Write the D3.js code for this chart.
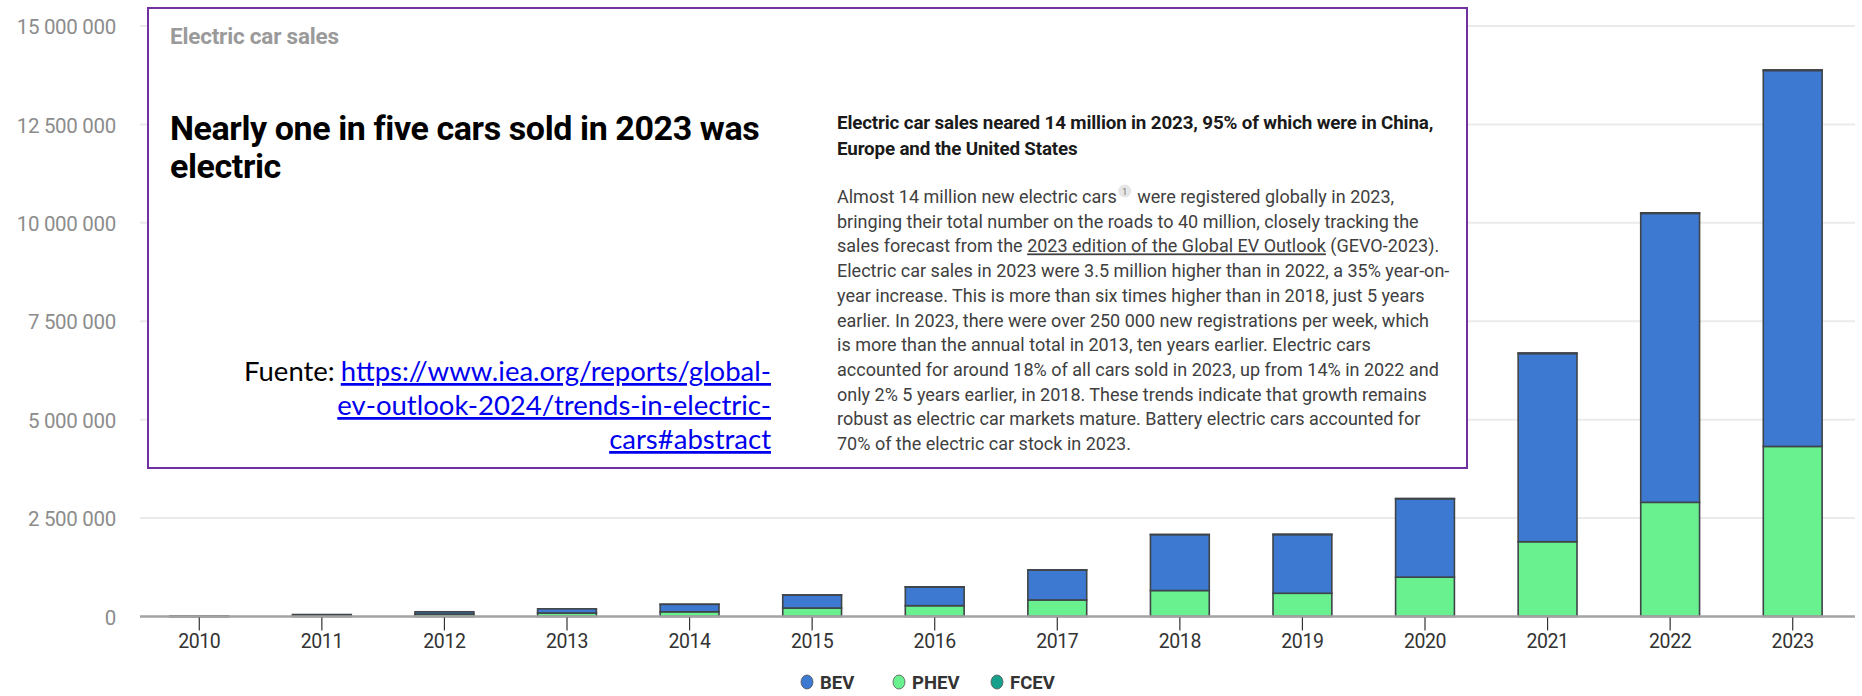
<!DOCTYPE html>
<html>
<head>
<meta charset="utf-8">
<script src="https://cdn.jsdelivr.net/npm/d3@7"></script>
<style>
  body { margin: 0; background: #fff; }
  svg { display: block; }
</style>
</head>
<body>
<div id="chart"></div>
<script>
// data
const years = ["2010","2011","2012","2013","2014","2015","2016","2017","2018","2019","2020","2021","2022","2023"];
const bev  = [7000, 40000, 58000, 105000, 190000, 330000, 475000, 760000, 1420000, 1490000, 1990000, 4780000, 7340000, 9550000];
const phev = [1000, 10000, 62000, 90000, 120000, 215000, 275000, 420000, 660000, 590000, 1000000, 1900000, 2900000, 4320000];
const fcev = [0, 0, 0, 0, 100, 600, 2300, 3300, 4000, 12000, 9000, 16000, 15000, 16000];
const series_names = ["BEV", "PHEV", "FCEV"];
const series_colors = {BEV: "#3d78d1", PHEV: "#69f08f", FCEV: "#16a08c"};
const y_ticks = [0, 2500000, 5000000, 7500000, 10000000, 12500000, 15000000];

const width = 1862, height = 696;

const svg = d3.select("#chart")
  .append("svg")
  .attr("width", width)
  .attr("height", height);

const x = d3.scaleBand()
  .domain(years)
  .range([138, 1854])
  .paddingInner(0.52)
  .paddingOuter(0.26);

const y = d3.scaleLinear()
  .domain([0, 15000000])
  .range([616.5, 26]);

const fmt = v => d3.format(",")(v).replace(/,/g, " ");

// gridlines + y labels
const grid = svg.append("g");
grid.selectAll("line")
  .data(y_ticks.filter(d => d > 0))
  .join("line")
  .attr("x1", 140).attr("x2", 1855)
  .attr("y1", d => y(d)).attr("y2", d => y(d))
  .attr("stroke", "#ebebeb")
  .attr("stroke-width", 2);

grid.selectAll("text")
  .data(y_ticks)
  .join("text")
  .attr("x", 116)
  .attr("y", d => y(d))
  .attr("dy", "0.4em")
  .attr("text-anchor", "end")
  .attr("font-family", "Roboto, sans-serif")
  .attr("font-size", 20.5)
  .attr("letter-spacing", -0.3)
  .attr("fill", "#8c8c8c")
  .text(fmt);

// stacked bars
const rows = years.map((yr, i) => ({year: yr, PHEV: phev[i], BEV: bev[i], FCEV: fcev[i]}));
const stack = d3.stack().keys(["PHEV", "BEV", "FCEV"])(rows);

svg.append("g")
  .selectAll("g")
  .data(stack)
  .join("g")
  .attr("fill", d => series_colors[d.key])
  .selectAll("rect")
  .data(d => d.filter(p => p[1] - p[0] > 0))
  .join("rect")
  .attr("x", d => x(d.data.year))
  .attr("width", x.bandwidth())
  .attr("y", d => y(d[1]))
  .attr("height", d => y(d[0]) - y(d[1]))
  .attr("stroke", "#3f4448")
  .attr("stroke-width", 1.6);

// x axis
svg.append("line")
  .attr("x1", 140).attr("x2", 1855)
  .attr("y1", y(0)).attr("y2", y(0))
  .attr("stroke", "#a3a3a3")
  .attr("stroke-width", 2.5);

const xa = svg.append("g");
xa.selectAll("line")
  .data(years)
  .join("line")
  .attr("x1", d => x(d) + x.bandwidth() / 2)
  .attr("x2", d => x(d) + x.bandwidth() / 2)
  .attr("y1", y(0) + 1).attr("y2", y(0) + 14)
  .attr("stroke", "#333")
  .attr("stroke-width", 1.2);

xa.selectAll("text")
  .data(years)
  .join("text")
  .attr("x", d => x(d) + x.bandwidth() / 2)
  .attr("y", 648)
  .attr("text-anchor", "middle")
  .attr("font-family", "Roboto, sans-serif")
  .attr("font-size", 19.5)
  .attr("letter-spacing", -0.4)
  .attr("fill", "#333")
  .text(d => d);

// legend
const legend_x = [807, 899, 997];
const lg = svg.append("g")
  .selectAll("g")
  .data(series_names)
  .join("g")
  .attr("transform", (d, i) => `translate(${legend_x[i]},682)`);
lg.append("ellipse")
  .attr("rx", 6).attr("ry", 7)
  .attr("fill", d => series_colors[d])
  .attr("stroke", "#555")
  .attr("stroke-width", 0.8);
lg.append("text")
  .attr("x", 13)
  .attr("dy", "0.36em")
  .attr("font-family", "Roboto, sans-serif")
  .attr("font-weight", 700)
  .attr("font-size", 18.5)
  .attr("fill", "#333")
  .text(d => d);

// overlay box
const box = svg.append("g");
box.append("rect")
  .attr("x", 148).attr("y", 8)
  .attr("width", 1319).attr("height", 460)
  .attr("fill", "#fff")
  .attr("stroke", "#7030a0")
  .attr("stroke-width", 2);

box.append("text")
  .attr("x", 170).attr("y", 44)
  .attr("font-family", "Roboto, sans-serif")
  .attr("font-weight", 700)
  .attr("font-size", 22.5)
  .attr("letter-spacing", -0.2)
  .attr("fill", "#9a9a9a")
  .text("Electric car sales");

const title_lines = ["Nearly one in five cars sold in 2023 was", "electric"];
box.append("g").selectAll("text")
  .data(title_lines)
  .join("text")
  .attr("x", 170)
  .attr("y", (d, i) => 140 + i * 38)
  .attr("font-family", "Roboto, sans-serif")
  .attr("font-weight", 700)
  .attr("font-size", 34)
  .attr("letter-spacing", -0.4)
  .attr("fill", "#000")
  .text(d => d);

// source
const src_lines = ["https://www.iea.org/reports/global-", "ev-outlook-2024/trends-in-electric-", "cars#abstract"];
const src = box.append("g")
  .attr("font-family", "Lato, sans-serif")
  .attr("font-size", 27.5);
src.selectAll("text")
  .data(src_lines)
  .join("text")
  .attr("x", 771)
  .attr("y", (d, i) => 381 + i * 34)
  .attr("text-anchor", "end")
  .attr("fill", "#0000ee")
  .style("text-decoration", "underline")
  .text(d => d);
const first_src = src.select("text").node();
src.append("text")
  .attr("x", 771 - first_src.getComputedTextLength() - 6)
  .attr("y", 381)
  .attr("text-anchor", "end")
  .attr("fill", "#000")
  .text("Fuente:");

// right column text
const head_lines = ["Electric car sales neared 14 million in 2023, 95% of which were in China,", "Europe and the United States"];
box.append("g").selectAll("text")
  .data(head_lines)
  .join("text")
  .attr("x", 837)
  .attr("y", (d, i) => 129 + i * 26)
  .attr("font-family", "Roboto, sans-serif")
  .attr("font-weight", 700)
  .attr("font-size", 18.8)
  .attr("letter-spacing", -0.15)
  .attr("fill", "#1a1a1a")
  .text(d => d);

const body_lines = [
  ["Almost 14 million new electric cars", " were registered globally in 2023,"],
  ["bringing their total number on the roads to 40 million, closely tracking the"],
  ["sales forecast from the ", "2023 edition of the Global EV Outlook", " (GEVO-2023)."],
  ["Electric car sales in 2023 were 3.5 million higher than in 2022, a 35% year-on-"],
  ["year increase. This is more than six times higher than in 2018, just 5 years"],
  ["earlier. In 2023, there were over 250 000 new registrations per week, which"],
  ["is more than the annual total in 2013, ten years earlier. Electric cars"],
  ["accounted for around 18% of all cars sold in 2023, up from 14% in 2022 and"],
  ["only 2% 5 years earlier, in 2018. These trends indicate that growth remains"],
  ["robust as electric car markets mature. Battery electric cars accounted for"],
  ["70% of the electric car stock in 2023."]
];
const body = box.append("g")
  .attr("font-family", "Roboto, sans-serif")
  .attr("font-size", 18)
  .attr("letter-spacing", 0)
  .attr("fill", "#404040");
const body_text = body.selectAll("text")
  .data(body_lines)
  .join("text")
  .attr("x", 837)
  .attr("y", (d, i) => 203 + i * 24.7);

body_text.each(function(parts, i) {
  const t = d3.select(this);
  parts.forEach((p, j) => {
    const sp = t.append("tspan").text(p);
    if (i === 0 && j === 1) sp.attr("dx", 16);
    if (i === 2 && j === 1) sp.style("text-decoration", "underline");
  });
});

// footnote marker after "cars"
const first_part = body_text.select("tspan").node();
const fn_x = 837 + first_part.getComputedTextLength() + 8;
body.append("circle")
  .attr("cx", fn_x).attr("cy", 191)
  .attr("r", 6.5)
  .attr("fill", "#e6e6e6");
body.append("text")
  .attr("x", fn_x).attr("y", 194.5)
  .attr("text-anchor", "middle")
  .attr("font-size", 9.5)
  .attr("fill", "#777")
  .text("1");
</script>
</body>
</html>
